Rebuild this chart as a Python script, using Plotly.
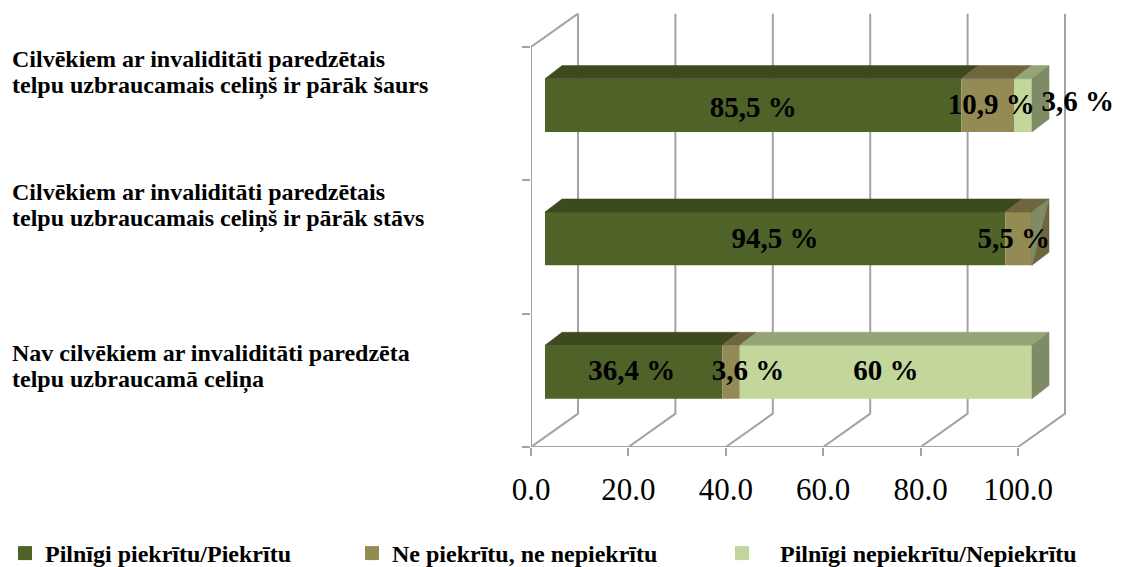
import plotly.graph_objects as go

row_positions = [0, 1, 2]
row_label_lines = [
    ["Nav cilvēkiem ar invaliditāti paredzēta", "telpu uzbraucamā celiņa"],
    ["Cilvēkiem ar invaliditāti paredzētais", "telpu uzbraucamais celiņš ir pārāk stāvs"],
    ["Cilvēkiem ar invaliditāti paredzētais", "telpu uzbraucamais celiņš ir pārāk šaurs"],
]
series_names = ["Pilnīgi piekrītu/Piekrītu", "Ne piekrītu, ne nepiekrītu", "\u00a0\u00a0\u00a0Pilnīgi nepiekrītu/Nepiekrītu"]
agree = [36.4, 94.5, 85.5]
neutral = [3.6, 5.5, 10.9]
disagree = [60.0, 0.0, 3.6]
agree_text = ["36,4 %", "94,5 %", "85,5 %"]
neutral_text = ["3,6 %", "5,5 %", "10,9 %"]
disagree_text = ["60 %", "", "3,6 %"]
x_ticks = [0, 20, 40, 60, 80, 100]

FRONT = ["#4F6228", "#948A54", "#C3D69B"]
TOP = ["#3D4A1E", "#6F6640", "#95A477"]
SIDE = ["#3D4A1E", "#6F6640", "#7E8B64"]
GRID = "#A3A3A3"
FONT = "Liberation Serif"
PAGE = 8                   # the page's own margin round the figure
BAR_W = 0.4
DX, DY = 3.5, 0.098        # depth of a bar, in axis units
WALL_DX, WALL_DY = 9.65, 0.25  # depth of the chart walls
X_MAX, Y_MAX = 120, 2.78    # room for the walls beyond the front plane
NUDGE_X = [[-0.4, 3.5, 0.0], [0, -1.0, 0], [0, 0.7, 0]]
NUDGE_Y = [[-0.008, -0.008, -0.008], [-0.015, -0.015, 0], [-0.03, -0.01, 0.01]]

fig = go.Figure()

# walls, floor and front axis lines
wx, wy = [100, 0, 0, None], [-0.5, -0.5, 2.5, None]
for t in x_ticks:
    wx += [t, t + WALL_DX, t + WALL_DX, None]
    wy += [-0.5, -0.5 + WALL_DY, 2.5 + WALL_DY, None]
wx += [0, WALL_DX]
wy += [2.5, 2.5 + WALL_DY]
fig.add_trace(go.Scatter(x=wx, y=wy, mode="lines", line=dict(color=GRID, width=2),
                         showlegend=False, hoverinfo="skip"))

series = [agree, neutral, disagree]
for s, vals in enumerate(series):
    base = [sum(series[k][i] for k in range(s)) for i in range(3)]
    fig.add_trace(go.Bar(x=vals, y=row_positions, base=base, orientation="h", width=BAR_W,
                         marker=dict(color=FRONT[s], line=dict(width=0)),
                         xaxis="x2", yaxis="y2", showlegend=False))

def poly(xs, ys, color):
    fig.add_trace(go.Scatter(x=xs + xs[:1], y=ys + ys[:1], mode="lines", fill="toself", fillcolor=color,
                             line=dict(color=color, width=0.5), xaxis="x2", yaxis="y2",
                             showlegend=False, hoverinfo="skip"))

for i, r in enumerate(row_positions):
    start = 0
    t = r + BAR_W / 2
    b = r - BAR_W / 2
    for s, vals in enumerate(series):
        v = vals[i]
        if v > 0:
            poly([start, start + v, start + v + DX, start + DX], [t, t, t + DY, t + DY], TOP[s])
        start += v
    if disagree[i] > 0:
        poly([start, start + DX, start + DX, start], [b, b + DY, t + DY, t], SIDE[2])
    else:
        poly([start, start + DX, start + DX, start], [b, b + DY, t + DY, t], SIDE[1])
        poly([start, start + DX, start], [b, t + DY, t], SIDE[2])

# value labels
lx, ly, lt = [], [], []
for s, (vals, texts) in enumerate(zip(series, [agree_text, neutral_text, disagree_text])):
    for i, r in enumerate(row_positions):
        if texts[i]:
            base = sum(series[k][i] for k in range(s))
            lx.append(base + vals[i] / 2 + NUDGE_X[r][s] if s < 2 or vals[i] > 10 else 100 + 9.4)
            ly.append(r + NUDGE_Y[r][s])
            lt.append(f"<b>{texts[i]}</b>")
fig.add_trace(go.Scatter(x=lx, y=ly, text=lt, mode="text", textposition="middle center",
                         textfont=dict(family=FONT, size=29, color="#000000"),
                         xaxis="x2", yaxis="y2", cliponaxis=False, showlegend=False, hoverinfo="skip"))

# legend entries
legend_x = [-3 / 1122, 344 / 1122, 714 / 1122]
for s, name in enumerate(series_names):
    key = "legend" if s == 0 else f"legend{s + 1}"
    fig.add_trace(go.Scatter(x=[None], y=[None], mode="markers", name=name, legend=key,
                             marker=dict(symbol="square", size=14, color=FRONT[s])))
legend_style = dict(y=1 - 523 / 567, yanchor="top", xanchor="left", bgcolor="rgba(0,0,0,0)",
                    font=dict(family=FONT, size=24, color="#000000", weight="bold"))

annotations = []
for i, r in enumerate(row_positions):
    base_shift = [14, 41, 41][i]
    for j, line in enumerate(row_label_lines[i]):
        annotations.append(dict(x=2 / 1122, y=r, xref="paper", yref="y", text=f"<b>{line}</b>",
                                showarrow=False, xanchor="left", yanchor="middle", align="left",
                                yshift=base_shift + 13.5 - 27 * j,
                                font=dict(family=FONT, size=24, color="#000000")))

LEFT = 531 - PAGE
BOTTOM = 447 - PAGE
H_PLOT_TOP = BOTTOM - (Y_MAX + 0.5) * 400 / 3
fig.update_layout(
    width=1122, height=567, autosize=False,
    margin=dict(l=0, r=0, t=0, b=0, autoexpand=False),
    paper_bgcolor="#FFFFFF", plot_bgcolor="rgba(0,0,0,0)",
    barmode="overlay", hovermode=False,
    xaxis=dict(domain=[LEFT / 1122, (LEFT + X_MAX * 4.87) / 1122], range=[0, X_MAX], tickvals=x_ticks,
               tickformat=".1f", showgrid=False, zeroline=False, showline=False, ticks="outside",
               ticklen=8, tickcolor=GRID, tickwidth=2, ticklabelstandoff=7,
               tickfont=dict(family=FONT, size=31, color="#000000")),
    yaxis=dict(domain=[1 - BOTTOM / 567, 1 - H_PLOT_TOP / 567], range=[-0.5, Y_MAX],
               tickvals=[-0.5, 0.5, 1.5, 2.5], showticklabels=False, showgrid=False, zeroline=False,
               showline=False, ticks="outside", ticklen=8, tickcolor=GRID, tickwidth=2),
    xaxis2=dict(range=[-2.87, X_MAX - 2.87], overlaying="x", visible=False),
    yaxis2=dict(range=[-0.5625, Y_MAX - 0.0625], overlaying="y", visible=False),
    legend=dict(x=legend_x[0], **legend_style),
    legend2=dict(x=legend_x[1], **legend_style),
    legend3=dict(x=legend_x[2], **legend_style),
    annotations=annotations,
)
fig.write_html("out.html")
